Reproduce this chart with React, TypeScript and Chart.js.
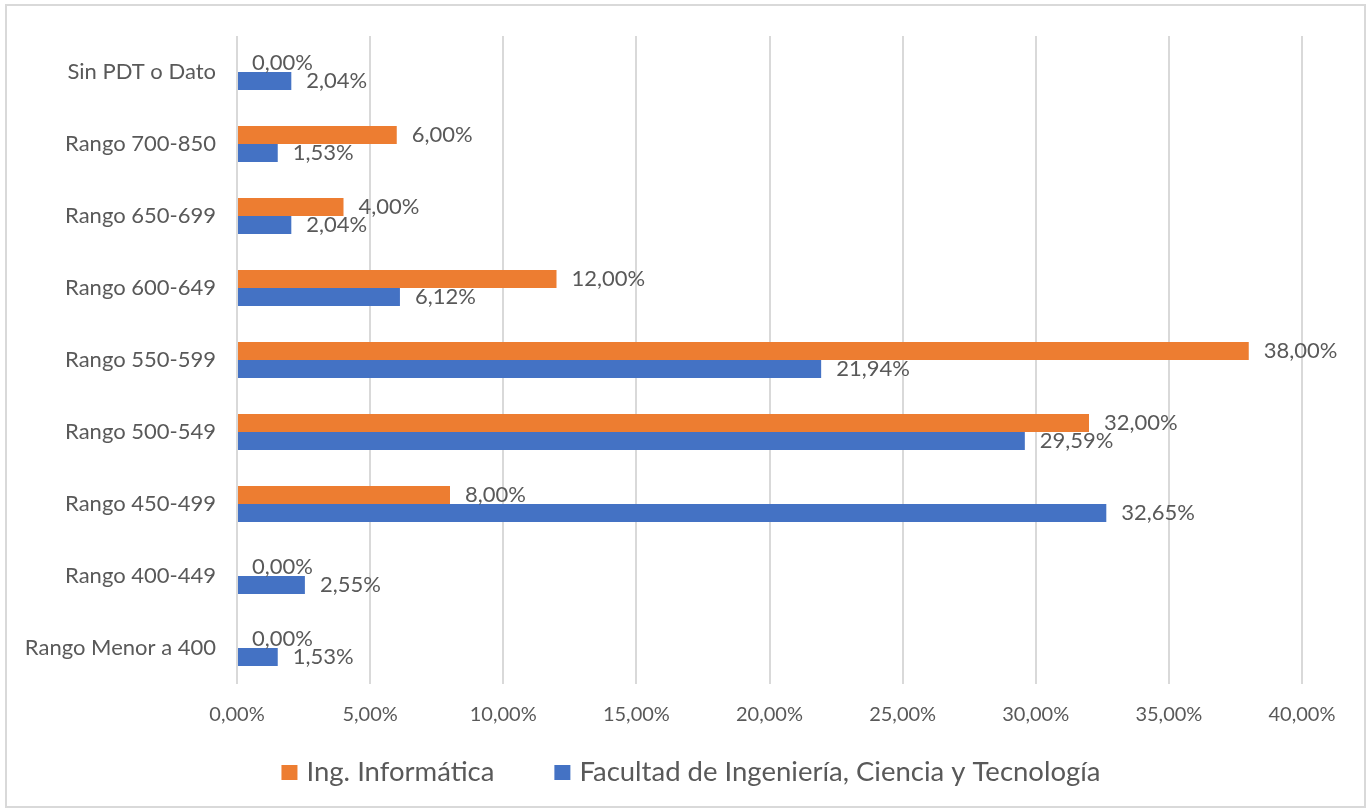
import React, { useEffect, useRef } from "react";
import { Chart, registerables } from "chart.js";

Chart.register(...registerables);

const categories = [
  "Sin PDT o Dato",
  "Rango 700-850",
  "Rango 650-699",
  "Rango 600-649",
  "Rango 550-599",
  "Rango 500-549",
  "Rango 450-499",
  "Rango 400-449",
  "Rango Menor a 400",
];
const informatica = [0, 6, 4, 12, 38, 32, 8, 0, 0];
const facultad = [2.04, 1.53, 2.04, 6.12, 21.94, 29.59, 32.65, 2.55, 1.53];
const seriesNames = ["Ing. Informática", "Facultad de Ingeniería, Ciencia y Tecnología"];
const seriesColors = ["#ED7D31", "#4472C4"];
const xMin = 0;
const xMax = 40;
const xStep = 5;

const TEXT = "#595959";
const fmt = (v: number) => v.toFixed(2).replace(".", ",") + "%";

export default function App() {
  const ref = useRef<HTMLCanvasElement>(null);
  useEffect(() => {
    const canvas = ref.current!;
    const labelPlugin = {
      id: "barValueLabels",
      afterDatasetsDraw(chart: any) {
        const ctx = chart.ctx;
        ctx.save();
        ctx.font = "22px Lato";
        ctx.fillStyle = TEXT;
        ctx.textAlign = "left";
        ctx.textBaseline = "middle";
        chart.data.datasets.forEach((ds: any, i: number) => {
          const meta = chart.getDatasetMeta(i);
          meta.data.forEach((el: any, j: number) => {
            const v = ds.data[j] as number;
            ctx.fillText(fmt(v), el.x + 15, el.y);
          });
        });
        ctx.restore();
      },
    };
    const legendPlugin = {
      id: "customLegend",
      afterDraw(chart: any) {
        const ctx = chart.ctx;
        ctx.save();
        ctx.font = "27.5px Lato";
        ctx.textBaseline = "middle";
        ctx.textAlign = "left";
        const box = 16;
        const boxGap = 9;
        const itemGap = 60;
        const cy = 772;
        const items = chart.data.datasets.map((ds: any) => ({
          text: ds.label as string,
          color: ds.backgroundColor as string,
          w: ctx.measureText(ds.label).width,
        }));
        const total =
          items.reduce((s: number, it: any) => s + box + boxGap + it.w, 0) +
          itemGap * (items.length - 1);
        let x = 691 - total / 2;
        items.forEach((it: any) => {
          ctx.fillStyle = it.color;
          ctx.fillRect(x, cy - 7, box, 15);
          ctx.fillStyle = TEXT;
          ctx.fillText(it.text, x + box + boxGap, cy);
          x += box + boxGap + it.w + itemGap;
        });
        ctx.restore();
      },
    };
    const chart = new Chart(canvas, {
      type: "bar",
      data: {
        labels: categories,
        datasets: [
          {
            label: seriesNames[0],
            data: informatica,
            backgroundColor: seriesColors[0],
            categoryPercentage: 0.5,
            barPercentage: 1,
            xAxisID: "x",
            yAxisID: "y",
          },
          {
            label: seriesNames[1],
            data: facultad,
            backgroundColor: seriesColors[1],
            categoryPercentage: 0.5,
            barPercentage: 1,
            xAxisID: "x",
            yAxisID: "y",
          },
        ],
      },
      options: {
        indexAxis: "y",
        responsive: false,
        animation: false,
        layout: { padding: { top: 36, bottom: 66, left: 0, right: 0 } },
        scales: {
          x: {
            type: "linear",
            min: xMin,
            max: xMax,
            ticks: {
              stepSize: xStep,
              callback: (v: any) => fmt(Number(v)),
              color: TEXT,
              font: { size: 20, family: "Lato" },
              padding: 19,
              maxRotation: 0,
            },
            grid: { color: "#d9d9d9", lineWidth: 2, drawTicks: false },
            border: { display: false },
            afterFit: (s: any) => {
              s.height = 60;
            },
          },
          y: {
            type: "category",
            ticks: { color: TEXT, font: { size: 22, family: "Lato" }, padding: 21 },
            grid: { display: false, drawTicks: false },
            border: { display: false },
            afterFit: (s: any) => {
              s.width = 237;
            },
          },
          y2: {
            type: "category",
            position: "right",
            display: true,
            ticks: { display: false },
            grid: { display: false, drawTicks: false },
            border: { display: false },
            afterFit: (s: any) => {
              s.width = 67;
            },
          },
        },
        plugins: {
          legend: { display: false },
          tooltip: { enabled: false },
        },
      } as any,
      plugins: [labelPlugin, legendPlugin],
    });
    return () => chart.destroy();
  }, []);

  return (
    <div
      style={{
        position: "fixed",
        left: 0,
        top: 0,
        width: 1369,
        height: 810,
        background: "#ffffff",
      }}
    >
      <canvas
        ref={ref}
        width={1369}
        height={810}
        style={{ position: "absolute", left: 0, top: 0, width: 1369, height: 810 }}
      />
      <div
        style={{
          position: "absolute",
          left: 5,
          top: 4,
          width: 1361,
          height: 804,
          border: "2px solid #d9d9d9",
          boxSizing: "border-box",
          pointerEvents: "none",
        }}
      />
    </div>
  );
}
